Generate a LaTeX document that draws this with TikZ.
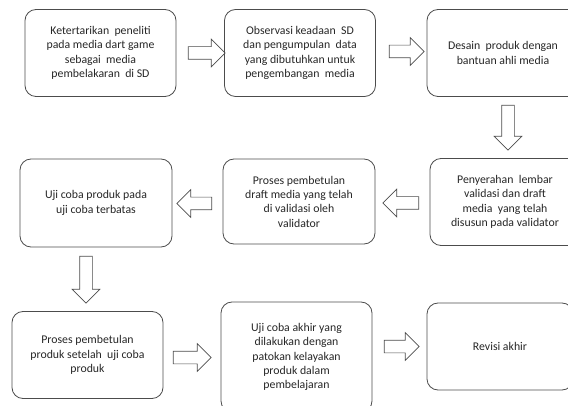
\documentclass[tikz,border=0pt]{standalone}
\usepackage{fontspec}
\setmainfont{Carlito}
\usetikzlibrary{shapes.arrows}

\begin{document}
\begin{tikzpicture}[x=1pt, y=-1pt, font=\fontsize{11.8}{14.3}\selectfont,
  kotak/.style={draw=black!70, line width=0.8pt, rounded corners=11pt,
    align=center, inner sep=0pt, text=black!85,
    minimum width=151pt, minimum height=87pt},
  panah/.style={single arrow, draw=black!70, line width=0.7pt,
    inner sep=6pt, single arrow head extend=7.5pt, minimum height=#1}]
  \useasboundingbox (0,0) rectangle (568,406);
  % baris pertama
  \node[kotak] (awal) at (100.5,53) {Ketertarikan\ \ peneliti\\pada media dart game\\sebagai\ \ media\\pembelakaran\ \ di SD};
  \node[kotak] (observasi) at (300,53) {Observasi keadaan\ \ SD\\dan pengumpulan\ \ data\\yang dibutuhkan untuk\\pengembangan\ \ media};
  \node[kotak, minimum width=152pt] (desain) at (503,53) {Desain\ \ produk dengan\\bantuan ahli media};
  \node[panah=37pt] (p1) at (203.5,53) {};
  \node[panah=35pt] (p2) at (403.5,51.5) {};
  \node[panah=45pt, shape border rotate=270] (p3) at (508,124.5) {};
  % baris kedua
  \node[kotak, minimum width=150pt] (serah) at (505,202) {Penyerahan\ \ lembar\\validasi dan draft\\media\ \ yang telah\\disusun pada validator};
  \node[kotak, minimum width=152pt, minimum height=85pt] (betul) at (299,201.5) {Proses pembetulan\\draft media yang telah\\di validasi oleh\\validator};
  \node[kotak, minimum width=152pt, minimum height=88pt] (terbatas) at (96,203) {Uji coba produk pada\\uji coba terbatas};
  \node[panah=36pt, shape border rotate=180] (p4) at (404,203) {};
  \node[panah=35pt, shape border rotate=180] (p5) at (197.5,203.5) {};
  \node[panah=47pt, shape border rotate=270] (p6) at (86,276.5) {};
  % baris ketiga
  \node[kotak] (revisi1) at (87.5,355) {Proses pembetulan\\produk setelah\ \ uji coba\\produk};
  \node[kotak, minimum height=110pt] (akhir) at (296.5,357) {Uji coba akhir yang\\dilakukan dengan\\patokan kelayakan\\produk dalam\\pembelajaran};
  \node[kotak, minimum width=146pt] (revisi2) at (500,346.5) {Revisi akhir};
  \node[panah=38pt] (p7) at (189,357.5) {};
  \node[panah=35pt] (p8) at (398.5,346.5) {};
\end{tikzpicture}
\end{document}
